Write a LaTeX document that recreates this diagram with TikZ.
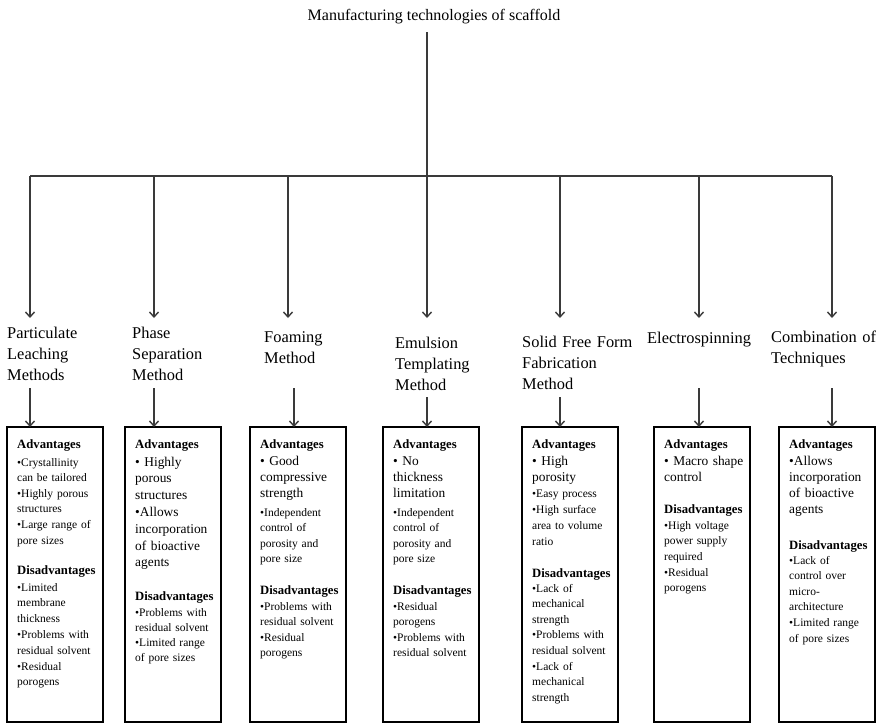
\documentclass[tikz,border=0pt]{standalone}
\usepackage{fontspec}
\setmainfont{Liberation Serif}
\usetikzlibrary{arrows.meta}
\definecolor{linec}{HTML}{3A3A3A}
\tikzset{
  plain/.style={draw=linec, line width=1.4pt},
  conn/.style={draw=linec, line width=1.4pt, -{Straight Barb[length=5pt,width=9pt,line width=1.4pt]}},
  lbl/.style={anchor=base west, inner sep=0pt, align=left, text width=112pt, font=\fontsize{16.4}{21}\selectfont},
  card/.style={draw=black, line width=2.4pt, anchor=north west, outer sep=0pt, inner sep=0pt, minimum width=96pt, minimum height=295pt},
  hd/.style={anchor=base west, inner sep=0pt, font=\bfseries\fontsize{12.7}{15}\selectfont},
  big/.style={anchor=base west, inner sep=0pt, align=left, text width=90pt, font=\fontsize{13.4}{#1}\selectfont},
  big/.default=16.2,
  sml/.style={anchor=base west, inner sep=0pt, align=left, text width=90pt, font=\fontsize{11.5}{#1}\selectfont},
  sml/.default=15.6
}
\begin{document}
\begin{tikzpicture}[x=1pt,y=-1pt]
\useasboundingbox (0,0) rectangle (876,724);

% title and trunk
\node[font=\fontsize{16}{20}\selectfont, anchor=base, inner sep=0pt] (title) at (434,20) {Manufacturing technologies of scaffold};
\coordinate (top) at (427,176);
\coordinate (tstart) at (427,32);
\draw[plain] (tstart) -- (top);

% columns: upper x, label x, label baseline, label, lower arrow start y, lower arrow x
\foreach \i/\ux/\lx/\ly/\txt/\sy/\dx in {
  1/30/7/338/{Particulate\\Leaching\\Methods}/388/30,
  2/154/132/338/{Phase\\Separation\\Method}/388/154,
  3/288/264/342/{Foaming\\Method}/388/294,
  4/427/395/348/{Emulsion\\Templating\\Method}/397/427,
  5/560/522/347/{Solid Free Form\\Fabrication\\Method}/397/560,
  6/699/647/343/{Electrospinning}/388/699,
  7/832/771/342/{Combination of\\Techniques}/388/832}{
  \coordinate (h\i) at (\ux,176);
  \coordinate (u\i) at (\ux,318);
  \node[lbl] (l\i) at (\lx,\ly) {\txt};
  \coordinate (a\i) at (\dx,\sy);
}
\draw[plain] (h1) -- (h7);
\foreach \i in {1,...,7}{\draw[conn] (h\i) -- (u\i);}

% boxes
\node[card] (box1) at (7,427) {};
\node[card] (box2) at (125,427) {};
\node[card] (box3) at (250,427) {};
\node[card] (box4) at (383,427) {};
\node[card] (box5) at (522,427) {};
\node[card] (box6) at (654,427) {};
\node[card] (box7) at (779,427) {};
\foreach \i in {1,...,7}{\draw[conn] (a\i) -- (a\i |- box\i.north);}

% box 1
\node[hd] (b1ah) at (17,448) {Advantages};
\node[sml] (b1ab) at (17,466) {•Crystallinity\\can be tailored\\•Highly porous\\structures\\•Large range of\\pore sizes};
\node[hd] (b1dh) at (17,574) {Disadvantages};
\node[sml=15.8] (b1db) at (17,591) {•Limited\\membrane\\thickness\\•Problems with\\residual solvent\\•Residual\\porogens};

% box 2
\node[hd] (b2ah) at (135,448) {Advantages};
\node[big=16.8] (b2ab) at (135,466) {• Highly\\porous\\structures\\•Allows\\incorporation\\of bioactive\\agents};
\node[hd] (b2dh) at (135,600) {Disadvantages};
\node[sml=15.3] (b2db) at (135,616) {•Problems with\\residual solvent\\•Limited range\\of pore sizes};

% box 3
\node[hd] (b3ah) at (260,448) {Advantages};
\node[big=16] (b3ab) at (260,465) {• Good\\compressive\\strength};
\node[sml] (b3ab2) at (260,516) {•Independent\\control of\\porosity and\\pore size};
\node[hd] (b3dh) at (260,594) {Disadvantages};
\node[sml] (b3db) at (260,610) {•Problems with\\residual solvent\\•Residual\\porogens};

% box 4
\node[hd] (b4ah) at (393,448) {Advantages};
\node[big=16] (b4ab) at (393,465) {• No\\thickness\\limitation};
\node[sml] (b4ab2) at (393,516) {•Independent\\control of\\porosity and\\pore size};
\node[hd] (b4dh) at (393,594) {Disadvantages};
\node[sml] (b4db) at (393,610) {•Residual\\porogens\\•Problems with\\residual solvent};

% box 5
\node[hd] (b5ah) at (532,448) {Advantages};
\node[big=16] (b5ab) at (532,465) {• High\\porosity};
\node[sml=16.3] (b5ab2) at (532,497) {•Easy process\\•High surface\\area to volume\\ratio};
\node[hd] (b5dh) at (532,577) {Disadvantages};
\node[sml] (b5db) at (532,592) {•Lack of\\mechanical\\strength\\•Problems with\\residual solvent\\•Lack of\\mechanical\\strength};

% box 6
\node[hd] (b6ah) at (664,448) {Advantages};
\node[big=16] (b6ab) at (664,465) {• Macro shape\\control};
\node[hd] (b6dh) at (664,513) {Disadvantages};
\node[sml=15.7] (b6db) at (664,529) {•High voltage\\power supply\\required\\•Residual\\porogens};

% box 7
\node[hd] (b7ah) at (789,448) {Advantages};
\node[big=16.3] (b7ab) at (789,465) {•Allows\\incorporation\\of bioactive\\agents};
\node[hd] (b7dh) at (789,549) {Disadvantages};
\node[sml] (b7db) at (789,564) {•Lack of\\control over\\micro-\\architecture\\•Limited range\\of pore sizes};
\end{tikzpicture}
\end{document}
